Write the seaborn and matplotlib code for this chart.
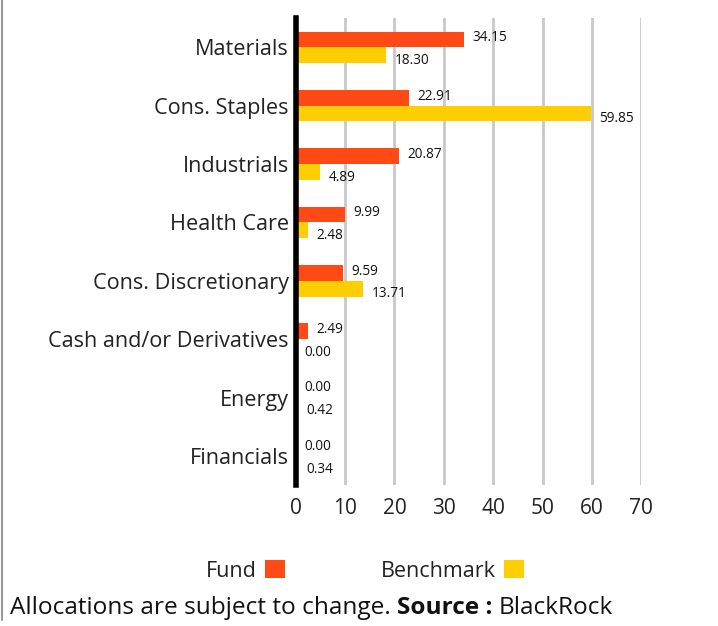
import matplotlib
matplotlib.use("Agg")
import matplotlib.pyplot as plt
import seaborn as sns
import pandas as pd
from matplotlib.lines import Line2D

categories = ["Materials", "Cons. Staples", "Industrials", "Health Care",
              "Cons. Discretionary", "Cash and/or Derivatives", "Energy", "Financials"]
fund = [34.15, 22.91, 20.87, 9.99, 9.59, 2.49, 0.00, 0.00]
benchmark = [18.30, 59.85, 4.89, 2.48, 13.71, 0.00, 0.42, 0.34]
series_names = ["Fund", "Benchmark"]
xticks = [0, 10, 20, 30, 40, 50, 60, 70]

df = pd.DataFrame({
    "Sector": categories * 2,
    "Value": fund + benchmark,
    "Series": [series_names[0]] * len(categories) + [series_names[1]] * len(categories),
})

sns.set_style("white")
plt.rcParams["font.family"] = ["Open Sans", "DejaVu Sans"]

fig = plt.figure(figsize=(7.18, 6.26), dpi=100)
ax = fig.add_axes([0.412, 0.225, 0.481, 0.746])

colors = {"Fund": "#FF4A16", "Benchmark": "#FFCE00"}
sns.barplot(data=df, y="Sector", x="Value", hue="Series", orient="h",
            palette=colors, width=0.54, ax=ax, order=categories,
            hue_order=series_names, saturation=1, edgecolor="none")

ax.set_xlim(0, 70)
ax.set_ylim(len(categories) - 0.5, -0.5)
ax.set_xticks(xticks)
ax.set_xticklabels([str(t) for t in xticks], fontsize=15, color="#222222")
ax.tick_params(axis="y", labelsize=15.6, colors="#222222", length=0, pad=5)
ax.tick_params(axis="x", length=0, pad=9)
ax.set_xlabel("")
ax.set_ylabel("")
ax.xaxis.grid(True, color="#c8c8c8", linewidth=2)
ax.yaxis.grid(False)
ax.set_axisbelow(True)
for s in ["top", "right", "bottom"]:
    ax.spines[s].set_visible(False)
ax.spines["left"].set_color("black")
ax.spines["left"].set_linewidth(4)
ax.spines["left"].set_zorder(5)

# value labels
for ci, cont in enumerate(ax.containers):
    vals = fund if ci == 0 else benchmark
    for patch, v in zip(cont.patches, vals):
        yc = patch.get_y() + patch.get_height() / 2
        dy = -0.03 if ci == 0 else 0.09
        ax.text(patch.get_width() + 1.7, yc + dy, f"{v:.2f}", fontsize=9.8,
                va="center", ha="left", color="#111111")

handles, labels = ax.get_legend_handles_labels()
ax.legend_.remove()
leg = fig.legend(handles, labels, loc="center", bbox_to_anchor=(0.508, 0.088),
                 ncol=2, frameon=False, markerfirst=False, fontsize=15.5,
                 handlelength=0.9, handleheight=0.9, handletextpad=0.4,
                 columnspacing=4.45, labelcolor="#222222")

fs = 17.6
fig.text(0.014, 0.028, "Allocations are subject to change. ", fontsize=fs,
         color="#111111", va="center", ha="left")
t1 = fig.texts[-1]
fig.canvas.draw()
bb = t1.get_window_extent()
x2 = bb.x1 / fig.bbox.width
t2 = fig.text(x2, 0.028, "Source :", fontsize=fs, fontweight="bold",
              color="#111111", va="center", ha="left")
fig.canvas.draw()
bb2 = t2.get_window_extent()
fig.text(bb2.x1 / fig.bbox.width + 0.008, 0.028, "BlackRock", fontsize=fs,
         color="#111111", va="center", ha="left")

fig.add_artist(Line2D([0.003, 0.003], [0.01, 1.0], transform=fig.transFigure,
                      color="#999999", linewidth=1.5))

fig.savefig("out.png", dpi=100)
